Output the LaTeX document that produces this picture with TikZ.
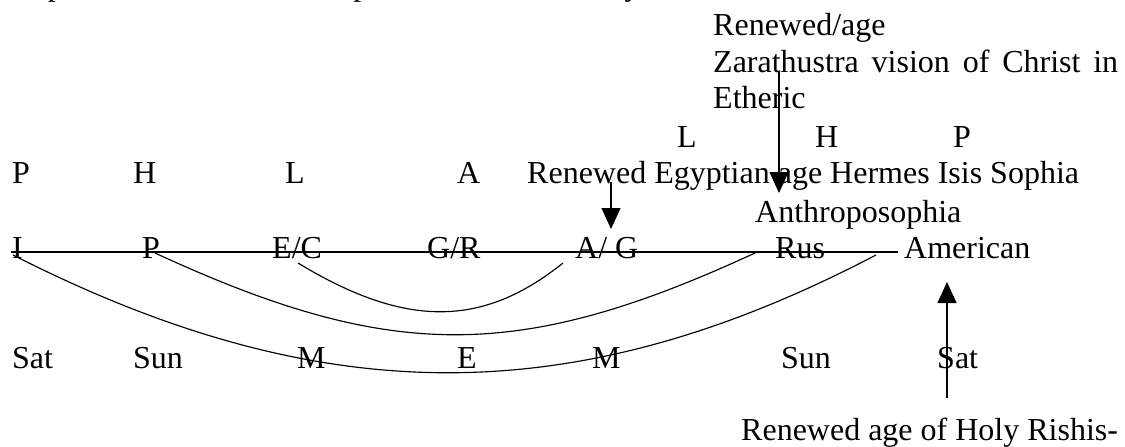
\documentclass[tikz,border=0pt]{standalone}
\usepackage{fontspec}
\setmainfont{Liberation Serif}
\usetikzlibrary{arrows.meta}
\begin{document}
\begin{tikzpicture}[x=1pt,y=-1pt,
  lbl/.style={anchor=base west,inner sep=0pt,font=\fontsize{32}{36.5}\selectfont},
  ln/.style={line width=1.15pt},
  arr/.style={line width=1.15pt,-{Triangle[length=21pt,width=19pt]}}]
\useasboundingbox (0,0) rectangle (1125,447);
\clip (0,0) rectangle (1125,447);
% cropped top line
\node[lbl] (top) at (12,-5) {Repetitive S, each lasts a epoch lasts 2160, 100 years,};
% upper right block
\node[lbl] (ren) at (713,35) {Renewed/age};
\node[lbl] (zar) at (713,72) {\makebox[405pt][s]{Zarathustra vision of Christ in}};
\node[lbl] (eth) at (713,108) {Etheric};
\node[lbl] (L2) at (677,147) {L};
\node[lbl] (H2) at (815,147) {H};
\node[lbl] (P2) at (953,147) {P};
% row P H L A
\node[lbl] (P1) at (12,183) {P};
\node[lbl] (H1) at (133,183) {H};
\node[lbl] (L1) at (285,183) {L};
\node[lbl] (A1) at (457,183) {A};
\node[lbl] (reg) at (527,183) {Renewed Egyptian age Hermes Isis Sophia};
\node[lbl] (anth) at (755,222) {Anthroposophia};
% main row
\node[lbl] (nI) at (12,258) {I};
\node[lbl] (nP) at (142,258) {P};
\node[lbl] (nEC) at (272,258) {E/C};
\node[lbl] (nGR) at (427,258) {G/R};
\node[lbl] (nAG) at (575,258) {A/ G};
\node[lbl] (nRus) at (775,258) {Rus};
\node[lbl] (nAm) at (904,258) {American};
% planet row
\node[lbl] (s1) at (12,368) {Sat};
\node[lbl] (s2) at (133,368) {Sun};
\node[lbl] (s3) at (297,368) {M};
\node[lbl] (s4) at (457,368) {E};
\node[lbl] (s5) at (592,368) {M};
\node[lbl] (s6) at (781,368) {Sun};
\node[lbl] (s7) at (937,368) {Sat};
% bottom text
\node[lbl] (rish) at (741,440) {Renewed age of Holy Rishis-};
% line
\coordinate (l0) at (11,252);
\coordinate (l1) at (898,252);
\draw[ln] (l0) -- (l1);
% curves
\coordinate (c1a) at (13,255);
\coordinate (c1b) at (876,255);
\coordinate (c2a) at (155,253);
\coordinate (c2b) at (755,253);
\coordinate (c3a) at (298,263);
\coordinate (c3b) at (563,263);
\draw[ln] (c1a) .. controls (322,412) and (576,412) .. (c1b);
\draw[ln] (c2a) .. controls (391,362) and (519,362) .. (c2b);
\draw[ln] (c3a) .. controls (405,328) and (482,328) .. (c3b);
% arrows
\coordinate (a1s) at (611,182);
\coordinate (a1e) at (611,229);
\coordinate (a2s) at (779,72);
\coordinate (a2e) at (779,193);
\coordinate (a3s) at (947,398);
\coordinate (a3e) at (947,282);
\draw[arr] (a1s) -- (a1e);
\draw[arr] (a2s) -- (a2e);
\draw[arr] (a3s) -- (a3e);
\end{tikzpicture}
\end{document}
